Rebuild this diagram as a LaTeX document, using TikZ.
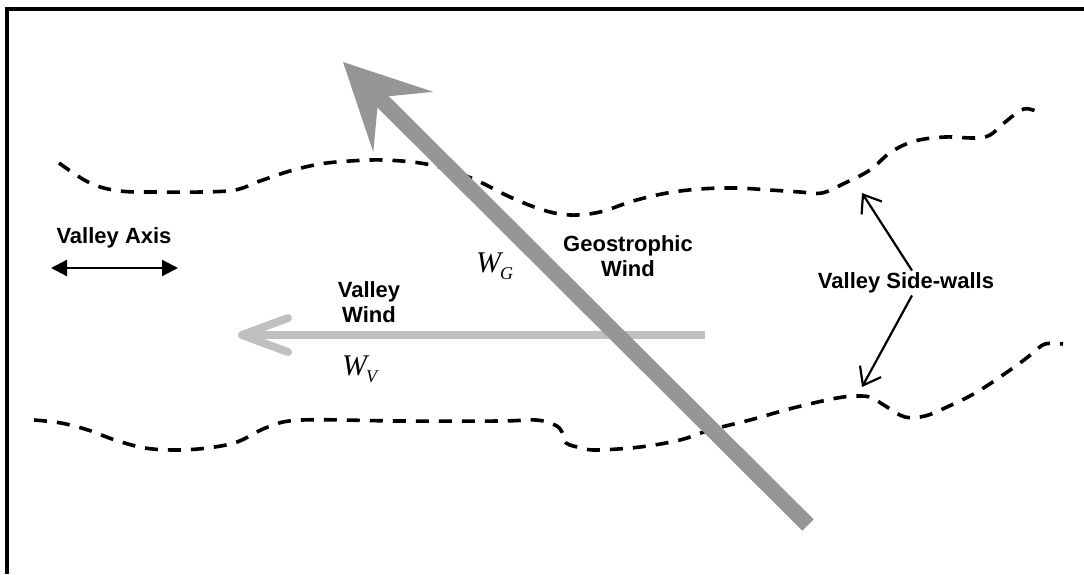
\documentclass[tikz,border=0pt]{standalone}
\usepackage{fontspec}
\setmainfont{Liberation Sans}
\newfontfamily\windfont{Liberation Serif}
\usetikzlibrary{arrows.meta,calc}

\definecolor{geogray}{RGB}{150,150,150}
\definecolor{vwgray}{RGB}{192,192,192}

% wind symbol W with a subscript
\newcommand{\windsym}[1]{{\windfont\itshape\fontsize{30}{30}\selectfont W\kern-1pt\raisebox{-7pt}{\fontsize{18}{18}\selectfont #1}}}

\begin{document}
\begin{tikzpicture}[x=1pt, y=-1pt,
    lbl/.style={font=\bfseries\fontsize{22}{25.5}\selectfont, align=center, inner sep=2pt},
    wall/.style={line width=3.6pt, dash pattern=on 13pt off 10pt, line join=round},
    pointer/.style={line width=2.2pt, -{Straight Barb[length=16pt, width=24pt]}}]
    \useasboundingbox (0,0) rectangle (1084,574);

    % Frame (cut at the right and at the bottom)
    \draw[line width=3.4pt] (7,574) -- (7,9) -- (1084,9);

    % Valley side-walls
    \draw[wall] plot[smooth, tension=0.6] coordinates {
        (59,163) (90,183) (120,191) (160,192) (200,192) (235,190) (260,181)
        (290,171) (320,164) (350,161) (383,160) (420,163) (450,170) (480,182)
        (510,197) (543,210) (570,215) (600,212) (633,201) (667,193) (700,189)
        (735,188) (770,190) (800,192) (822,193) (845,183) (870,170) (891,152)
        (915,141) (945,137) (975,138) (990,135) (1004,123) (1024,109) (1040,113)};
    \draw[wall] plot[smooth, tension=0.6] coordinates {
        (34,420) (61,423) (88,430) (115,440) (145,448) (176,450) (207,448)
        (237,442) (268,427) (302,420) (400,421) (500,421) (536,420) (555,425)
        (562,432) (566,443) (582,448) (597,450) (640,447) (680,440) (710,430)
        (750,420) (793,408) (837,398) (860,396) (872,398) (887,407) (905,417)
        (925,416) (947,407) (977,392) (1013,368) (1033,353) (1045,344) (1063,344)};

    % Valley axis
    \node[lbl] (axis) at (114,238) {Valley Axis};
    \coordinate (axisL) at (51,268);
    \coordinate (axisR) at (178,268);
    \draw[line width=2.2pt, {Triangle[length=16pt, width=16pt]}-{Triangle[length=16pt, width=16pt]}] (axisL) -- (axisR);

    % Valley wind
    \coordinate (vwtail) at (705,335);
    \coordinate (vwtip) at (238,335);
    \draw[vwgray, line width=8pt, -{Straight Barb[length=46pt, width=34pt, round]}] (vwtail) -- (vwtip);
    \node[lbl] (vwind) at (369,302) {Valley\\Wind};
    \node[anchor=base west, inner sep=0pt] (wv) at (342,375) {\windsym{V}};

    % Geostrophic wind
    \coordinate (geotail) at (808,525);
    \coordinate (geotip) at (343,62);
    \draw[geogray, line width=16pt, -{Stealth[length=85pt, width=85pt, inset=35pt, line width=0pt]}] (geotail) -- (geotip);
    \node[lbl] (gwind) at (628,256) {Geostrophic\\Wind};
    \node[anchor=base west, inner sep=0pt] (wg) at (476,272) {\windsym{G}};

    % Side-walls label and its pointers
    \node[lbl] (walls) at (906,283) {Valley Side-walls};
    \coordinate (wallup) at (862,193);
    \coordinate (walldown) at (862,387);
    \draw[pointer] ([xshift=6pt]walls.north) -- (wallup);
    \draw[pointer] ([xshift=6pt]walls.south) -- (walldown);
\end{tikzpicture}
\end{document}
